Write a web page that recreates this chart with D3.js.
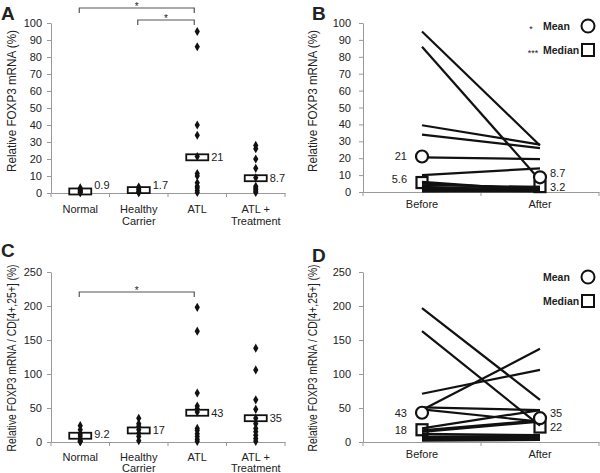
<!DOCTYPE html>
<html>
<head>
<meta charset="utf-8">
<script src="https://cdn.jsdelivr.net/npm/d3@7"></script>
<style>
  body { margin: 0; background: #fff; }
  text { font-family: Arial, "Liberation Sans", sans-serif; fill: #222; }
</style>
</head>
<body>
<div id="chart"></div>
<script>
// Categories for the scatter panels (A, C)
const categories = ["Normal", "Healthy Carrier", "ATL", "ATL + Treatment"];
const categoryLines = [["Normal"], ["Healthy", "Carrier"], ["ATL"], ["ATL +", "Treatment"]];
const phases = ["Before", "After"];

// Tick values
const ticksA = [0, 10, 20, 30, 40, 50, 60, 70, 80, 90, 100];
const ticksC = [0, 50, 100, 150, 200, 250];

// Panel A: relative FOXP3 mRNA (%)
const dotsA = [
  [3, 2, 1.5, 1, 0.5, 0.2],
  [3.5, 3, 2, 1, 0.5, 0.2],
  [95, 86, 40, 34, 21.5, 11.5, 10, 6, 4, 3, 1.5, 0.3],
  [28, 26, 20, 14.5, 9, 4, 3, 2, 1, 0.3]
];
const meansA = [0.9, 1.7, 21, 8.7];
const meanLabelsA = ["0.9", "1.7", "21", "8.7"];

// Panel C: relative FOXP3 mRNA / CD[4+,25+] (%)
const dotsC = [
  [24, 18, 12, 9, 5, 2, 1, 0.5],
  [35, 27, 23, 18, 13, 8, 2],
  [198, 163, 72, 53, 49, 44, 20, 17, 12, 8, 4, 1],
  [138, 106, 62, 48, 35, 27, 20, 15, 10, 5, 1]
];
const meansC = [9.2, 17, 43, 35];
const meanLabelsC = ["9.2", "17", "43", "35"];

// Panel B: paired before / after treatment
const beforeB = [95, 86, 39.5, 34, 20.5, 10, 6, 5, 4, 3, 2, 1.5, 1, 0.5, 0.3];
const afterB  = [27.5, 7, 28, 26, 19.5, 14, 1, 2, 3, 1, 0.5, 3, 0.5, 1, 0.3];
const meanB = [21, 8.7];
const medianB = [5.6, 3.2];
const meanLabelsB = ["21", "8.7"];
const medianLabelsB = ["5.6", "3.2"];

// Panel D: paired before / after treatment
const beforeD = [197, 163, 71, 47, 51, 48, 20, 17, 15, 12, 8, 6, 5, 4, 3, 2];
const afterD  = [62, 24, 106, 137, 47, 30, 47, 32, 30, 10, 9, 5, 8, 4, 6, 3];
const meanD = [43, 35];
const medianD = [18, 22];
const meanLabelsD = ["43", "35"];
const medianLabelsD = ["18", "22"];

const svg = d3.select("#chart").append("svg")
    .attr("width", 600)
    .attr("height", 473);

const axisColor = "#999";

function styleAxis(a) {
  a.select(".domain").attr("stroke", axisColor);
  a.selectAll(".tick line").attr("stroke", axisColor);
  a.selectAll(".tick text")
      .attr("font-size", 11)
      .attr("fill", "#222")
      .attr("font-family", "Arial, 'Liberation Sans', sans-serif");
}

function yAxis(g, y, p) {
  const a = g.append("g")
      .attr("transform", `translate(${p.x0},0)`)
      .call(d3.axisLeft(y).tickValues(p.ticks).tickSize(4).tickPadding(p.pad).tickSizeOuter(0));
  styleAxis(a);

  g.append("text")
      .attr("transform", `translate(${p.titleX},${p.titleY}) rotate(-90)`)
      .attr("text-anchor", "middle")
      .attr("font-size", 12)
      .attr("textLength", p.titleLen)
      .attr("lengthAdjust", "spacingAndGlyphs")
      .text(p.title);

  g.append("text")
      .attr("x", p.letterX).attr("y", p.letterY)
      .attr("font-size", 19).attr("font-weight", "bold")
      .attr("fill", "#111")
      .text(p.letter);
}

function scatterPanel(p) {
  const g = svg.append("g");
  const x = d3.scaleBand().domain(categories).range([p.x0, p.x1]);
  const y = d3.scaleLinear().domain([0, p.ticks[p.ticks.length - 1]]).range([p.y0, p.y1]);
  const cx = c => x(c) + x.bandwidth() / 2;

  yAxis(g, y, p);

  // x axis: line, ticks between categories, two-line labels
  const xa = g.append("g")
      .attr("transform", `translate(0,${p.y0})`)
      .call(d3.axisBottom(x).tickSize(0).tickFormat("").tickSizeOuter(0));
  styleAxis(xa);
  g.selectAll(null)
    .data(categories.map(c => x(c)).concat([p.x1]))
    .join("line")
      .attr("x1", d => d).attr("x2", d => d)
      .attr("y1", p.y0).attr("y2", p.y0 + 4)
      .attr("stroke", axisColor);
  categories.forEach((c, i) => {
    const t = g.append("text")
        .attr("text-anchor", "middle")
        .attr("font-size", 11)
        .attr("y", p.y0 + p.labelOffset);
    categoryLines[i].forEach((line, k) => {
      t.append("tspan").attr("x", cx(c)).attr("dy", k ? p.lineGap : 0).text(line);
    });
  });

  // mean boxes, then dots over them
  g.selectAll(null)
    .data(categories)
    .join("rect")
      .attr("x", c => cx(c) - 11)
      .attr("y", (c, i) => y(p.means[i]) - 3)
      .attr("width", 22)
      .attr("height", 6)
      .attr("fill", "#fff")
      .attr("stroke", "#111")
      .attr("stroke-width", 1.8);

  categories.forEach((c, i) => {
    g.selectAll(null)
      .data(p.dots[i])
      .join("path")
        .attr("d", d3.symbol(d3.symbolDiamond, 24))
        .attr("transform", d => `translate(${cx(c)},${y(d)})`)
        .attr("fill", "#111");
  });

  g.selectAll(null)
    .data(categories)
    .join("text")
      .attr("x", c => cx(c) + 14)
      .attr("y", (c, i) => Math.min(y(p.means[i]), p.y0 - 8))
      .attr("dy", "0.35em")
      .attr("font-size", 11)
      .text((c, i) => p.meanLabels[i]);

  // significance brackets
  p.brackets.forEach(b => {
    const x1 = cx(b.from) - 1, x2 = cx(b.to) - 3;
    g.append("path")
        .attr("d", `M${x1},${b.y + 5}V${b.y}H${x2}V${b.y + 5}`)
        .attr("fill", "none")
        .attr("stroke", "#555")
        .attr("stroke-width", 1.2);
    g.append("text")
        .attr("x", (x1 + x2) / 2)
        .attr("y", b.y + 1.5)
        .attr("text-anchor", "middle")
        .attr("font-size", 10)
        .text("*");
  });
}

function pairedPanel(p) {
  const g = svg.append("g");
  const x = d3.scaleBand().domain(phases).range([p.x0, p.x1]);
  const y = d3.scaleLinear().domain([0, p.ticks[p.ticks.length - 1]]).range([p.y0, p.y1]);
  const cx = c => x(c) + x.bandwidth() / 2;

  yAxis(g, y, p);

  const xa = g.append("g")
      .attr("transform", `translate(0,${p.y0})`)
      .call(d3.axisBottom(x).tickSize(0).tickPadding(8).tickSizeOuter(0));
  styleAxis(xa);
  g.selectAll(null)
    .data(phases.map(c => x(c)).concat([p.x1]))
    .join("line")
      .attr("x1", d => d).attr("x2", d => d)
      .attr("y1", p.y0).attr("y2", p.y0 + 4)
      .attr("stroke", axisColor);

  const xb = cx("Before"), xf = cx("After");

  g.selectAll(null)
    .data(p.before.map((b, i) => [b, p.after[i]]))
    .join("line")
      .attr("x1", xb).attr("y1", d => y(d[0]))
      .attr("x2", xf).attr("y2", d => y(d[1]))
      .attr("stroke", "#111")
      .attr("stroke-width", 2.2);

  // median squares and mean circles
  [xb, xf].forEach((px, i) => {
    g.append("rect")
        .attr("x", px - 5.5).attr("y", y(p.median[i]) - 5.5)
        .attr("width", 11).attr("height", 11)
        .attr("fill", "none").attr("stroke", "#111").attr("stroke-width", 2.2);
    g.append("circle")
        .attr("cx", px).attr("cy", y(p.mean[i]))
        .attr("r", 6)
        .attr("fill", "#fff").attr("stroke", "#111").attr("stroke-width", 2.2);
    const anchor = i ? "start" : "end";
    const lx = i ? px + 10 : px - 15;
    g.append("text")
        .attr("x", lx).attr("y", y(p.mean[i]) + p.meanShift[i])
        .attr("dy", "0.35em").attr("text-anchor", anchor)
        .attr("font-size", 11).text(p.meanLabels[i]);
    g.append("text")
        .attr("x", lx).attr("y", y(p.median[i]) + p.medianShift[i])
        .attr("dy", "0.35em").attr("text-anchor", anchor)
        .attr("font-size", 11).text(p.medianLabels[i]);
  });

  // legend
  const lg = g.append("g").attr("transform", `translate(0,${p.legendY})`);
  lg.append("text").attr("x", 543).attr("y", 4).attr("font-size", 10.5)
      .attr("font-weight", "bold").attr("fill", "#111").text("Mean");
  lg.append("circle").attr("cx", 588).attr("cy", 0).attr("r", 6.5)
      .attr("fill", "none").attr("stroke", "#111").attr("stroke-width", 2);
  lg.append("text").attr("x", 543).attr("y", 28).attr("font-size", 10.5)
      .attr("font-weight", "bold").attr("fill", "#111").text("Median");
  lg.append("rect").attr("x", 582).attr("y", 18).attr("width", 12).attr("height", 12)
      .attr("fill", "none").attr("stroke", "#111").attr("stroke-width", 2);
  if (p.stars) {
    lg.append("text").attr("x", 531).attr("y", 6).attr("text-anchor", "middle")
        .attr("font-size", 9).text(p.stars[0]);
    lg.append("text").attr("x", 533).attr("y", 30).attr("text-anchor", "middle")
        .attr("font-size", 9).text(p.stars[1]);
  }
}

const titleTop = "Relative FOXP3 mRNA (%)";
const titleBottom = "Relative FOXP3 mRNA / CD[4+,25+] (%)";

scatterPanel({
  x0: 51, x1: 285, y0: 193, y1: 23, ticks: ticksA, pad: 5,
  dots: dotsA, means: meansA, meanLabels: meanLabelsA,
  labelOffset: 20, lineGap: 12,
  title: titleTop, titleX: 16, titleY: 101, titleLen: 142,
  letter: "A", letterX: 1, letterY: 20,
  brackets: [
    { from: "Normal", to: "ATL", y: 8 },
    { from: "Healthy Carrier", to: "ATL", y: 20 }
  ]
});

scatterPanel({
  x0: 51, x1: 285, y0: 442, y1: 272, ticks: ticksC, pad: 5,
  dots: dotsC, means: meansC, meanLabels: meanLabelsC,
  labelOffset: 19, lineGap: 11,
  title: titleBottom, titleX: 16, titleY: 358, titleLen: 187,
  letter: "C", letterX: 1, letterY: 257,
  brackets: [
    { from: "Normal", to: "ATL", y: 292 }
  ]
});

pairedPanel({
  x0: 363, x1: 599, y0: 192, y1: 23, ticks: ticksA, pad: 8,
  before: beforeB, after: afterB, mean: meanB, median: medianB,
  meanLabels: meanLabelsB, medianLabels: medianLabelsB,
  meanShift: [0, -4], medianShift: [-3, 1],
  title: titleTop, titleX: 317, titleY: 101, titleLen: 142,
  letter: "B", letterX: 312, letterY: 20,
  legendY: 26, stars: ["*", "***"]
});

pairedPanel({
  x0: 363, x1: 599, y0: 442, y1: 272, ticks: ticksC, pad: 8,
  before: beforeD, after: afterD, mean: meanD, median: medianD,
  meanLabels: meanLabelsD, medianLabels: medianLabelsD,
  meanShift: [0, -5], medianShift: [0, 0],
  title: titleBottom, titleX: 317, titleY: 358, titleLen: 187,
  letter: "D", letterX: 312, letterY: 262,
  legendY: 277, stars: null
});
</script>
</body>
</html>
